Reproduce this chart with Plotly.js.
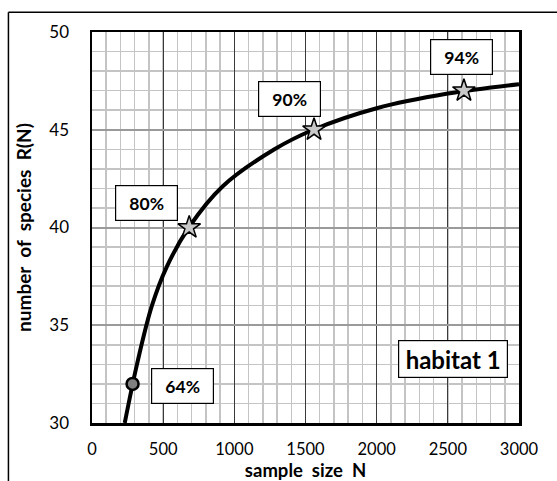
<!DOCTYPE html>
<html>
<head>
<meta charset="utf-8">
<script src="https://cdn.plot.ly/plotly-3.0.1.min.js"></script>
<style>html,body{margin:0;padding:0;background:#fff;}#chart{width:557px;height:481px;}</style>
</head>
<body>
<div id="chart"></div>
<script>
// Curve (sample size N, number of species R(N))
const curveN = [230, 316, 421, 526, 680, 917, 1282, 1555, 2000, 2500, 3000];
const curveR = [30, 33, 36, 38, 40, 42.1, 44, 45, 46.1, 46.85, 47.33];

// Marked points
const circleN = [285];
const circleR = [32];
const circleLabel = ['64%'];
const starN = [683, 1560, 2613];
const starR = [40, 45, 47];
const starLabels = ['80%', '90%', '94%'];

const xTicks = [0, 500, 1000, 1500, 2000, 2500, 3000];
const yTicks = [30, 35, 40, 45, 50];

const FONT = 'Lato, "Open Sans", sans-serif';

const traces = [
  {x: curveN, y: curveR, mode: 'lines', line: {color: '#000', width: 4, shape: 'spline', smoothing: 1}, hoverinfo: 'skip', showlegend: false},
  {x: circleN, y: circleR, mode: 'markers', marker: {symbol: 'circle', size: 12, color: '#7f7f7f', line: {color: '#000', width: 2.5}}, showlegend: false},
  {x: starN, y: starR, mode: 'markers', marker: {symbol: 'star', size: 17, color: '#c8c8c8', line: {color: '#000', width: 1.5}}, showlegend: false}
];

const labelPos = [[635, 31.87], [386, 41.26], [1387, 46.57], [2598, 48.7]];
const labelTexts = circleLabel.concat(starLabels);
const annotations = labelTexts.map((t, i) => ({
  x: labelPos[i][0], y: labelPos[i][1], xref: 'x', yref: 'y', text: '<b>' + t + '</b>',
  showarrow: false, xanchor: 'center', yanchor: 'middle',
  bgcolor: '#fff', bordercolor: '#000', borderwidth: 1.2, borderpad: 0,
  width: 61, height: 34, font: {family: FONT, size: 17.5, color: '#000'}
}));
annotations.push({
  x: 2536, y: 33.26, xref: 'x', yref: 'y', text: '<b>habitat 1</b>', showarrow: false,
  xanchor: 'center', yanchor: 'middle', bgcolor: '#fff', bordercolor: '#000', borderwidth: 1.2,
  borderpad: 0, width: 108, height: 36, font: {family: FONT, size: 24, color: '#000'}
});

const layout = {
  width: 557, height: 481,
  margin: {l: 91.7, r: 37.7, t: 31.7, b: 58.3},
  paper_bgcolor: '#fff', plot_bgcolor: '#fff',
  font: {family: FONT, color: '#000'},
  showlegend: false,
  xaxis: {
    range: [0, 3000], tickvals: xTicks, ticktext: xTicks.map(String),
    showgrid: true, gridcolor: '#3a3a3a', gridwidth: 1,
    minor: {dtick: 100, showgrid: true, gridcolor: '#c4c4c4', gridwidth: 1.5},
    showline: true, linecolor: '#000', linewidth: 2.5, mirror: true,
    zeroline: false, ticks: '', ticklabelstandoff: 10,
    tickfont: {family: FONT, size: 16.5, color: '#000'},
    title: {text: '<b>sample\u00a0 size\u00a0 N</b>', font: {family: FONT, size: 18.5, color: '#000'}, standoff: 10},
    automargin: false, fixedrange: true
  },
  yaxis: {
    range: [30, 50], tickvals: yTicks, ticktext: yTicks.map(String),
    showgrid: true, gridcolor: '#9a9a9a', gridwidth: 2,
    minor: {dtick: 1, showgrid: true, gridcolor: '#c4c4c4', gridwidth: 1.5},
    showline: true, linecolor: '#000', linewidth: 2.5, mirror: true,
    zeroline: false, ticks: '', ticklabelstandoff: 17,
    tickfont: {family: FONT, size: 17, color: '#000'},
    title: {text: '<b>number\u00a0 of\u00a0 species\u00a0 R(N)</b>', font: {family: FONT, size: 19, color: '#000'}, standoff: 13},
    automargin: false, fixedrange: true
  },
  annotations: annotations,
  shapes: [
    {type: 'line', xref: 'paper', yref: 'paper', x0: -0.1957, x1: 1.1, y0: 1.0504, y1: 1.0504, line: {color: '#000', width: 1.5}},
    {type: 'line', xref: 'paper', yref: 'paper', x0: -0.1957, x1: -0.1957, y0: 1.0504, y1: -0.2, line: {color: '#000', width: 1.5}}
  ]
};

Plotly.newPlot('chart', traces, layout, {displayModeBar: false, staticPlot: true});
</script>
</body>
</html>
